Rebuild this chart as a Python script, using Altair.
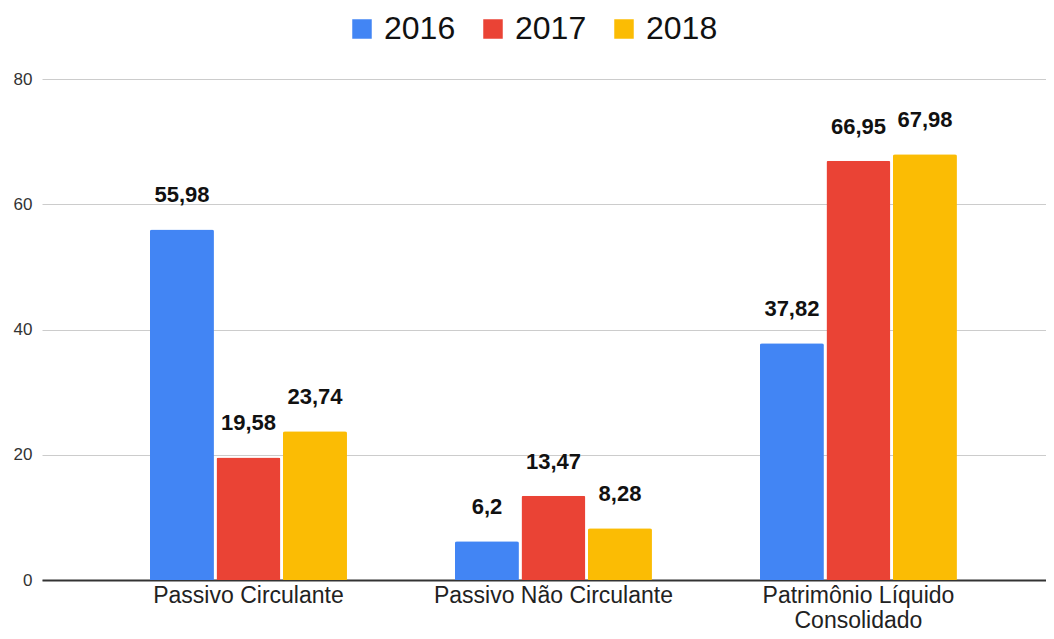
import altair as alt
import pandas as pd

categories = ["Passivo Circulante", "Passivo Não Circulante", "Patrimônio Líquido Consolidado"]
years = ["2016", "2017", "2018"]
values_2016 = [55.98, 6.2, 37.82]
values_2017 = [19.58, 13.47, 66.95]
values_2018 = [23.74, 8.28, 67.98]
colors = ["#4285F4", "#EA4335", "#FBBC04"]
y_ticks = [0, 20, 40, 60, 80]

rows = []
for yr, vals in zip(years, [values_2016, values_2017, values_2018]):
    for c, v in zip(categories, vals):
        rows.append({"categoria": c, "ano": yr, "valor": v,
                     "rotulo": str(v).replace(".", ",")})
df = pd.DataFrame(rows)

FONT = "Liberation Sans, Arial, sans-serif"

x = alt.X("categoria:N", sort=categories, title=None,
          scale=alt.Scale(paddingInner=0.354, paddingOuter=0.323, align=0.548),
          axis=alt.Axis(labelAngle=0, labelFontSize=23, labelColor="#222",
                        labelFont=FONT, labelPadding=4, labelLineHeight=25,
                        labelLimit=400,
                        ticks=False, domainColor="#333", domainWidth=2,
                        grid=False,
                        labelExpr="datum.label == 'Patrimônio Líquido Consolidado' ? ['Patrimônio Líquido', 'Consolidado'] : datum.label"))
xo = alt.XOffset("ano:N", sort=years,
                 scale=alt.Scale(paddingInner=0.038, paddingOuter=0))
y = alt.Y("valor:Q", title=None,
          scale=alt.Scale(domain=[0, 80], nice=False),
          axis=alt.Axis(values=y_ticks, labelFontSize=17, labelColor="#333",
                        labelFont=FONT, labelPadding=10, ticks=False,
                        domain=False, gridColor="#cccccc", gridWidth=1))

bars = alt.Chart(df).mark_bar(cornerRadiusTopLeft=2, cornerRadiusTopRight=2).encode(
    x=x, xOffset=xo, y=y,
    color=alt.Color("ano:N", sort=years,
                    scale=alt.Scale(domain=years, range=colors),
                    legend=alt.Legend(title=None, orient="none", legendX=304, legendY=-66,
                                      direction="horizontal", symbolType="square",
                                      symbolSize=380, symbolStrokeWidth=0,
                                      labelFontSize=32, labelFont=FONT, labelColor="#111",
                                      labelOffset=6, columnPadding=21))
)

labels = alt.Chart(df).mark_text(fontWeight="bold", fontSize=22, font=FONT,
                                 color="#111", dy=-27, baseline="alphabetic").encode(
    x=x, xOffset=xo, y=y, text="rotulo:N"
)

chart = (bars + labels).properties(
    width=1004, height=501,
    autosize=alt.AutoSizeParams(type="none"),
    padding={"left": 34, "top": 71, "right": 0, "bottom": 51},
).configure_view(stroke=None)

chart.save("out.html", embed_options={"renderer": "svg", "actions": False})
